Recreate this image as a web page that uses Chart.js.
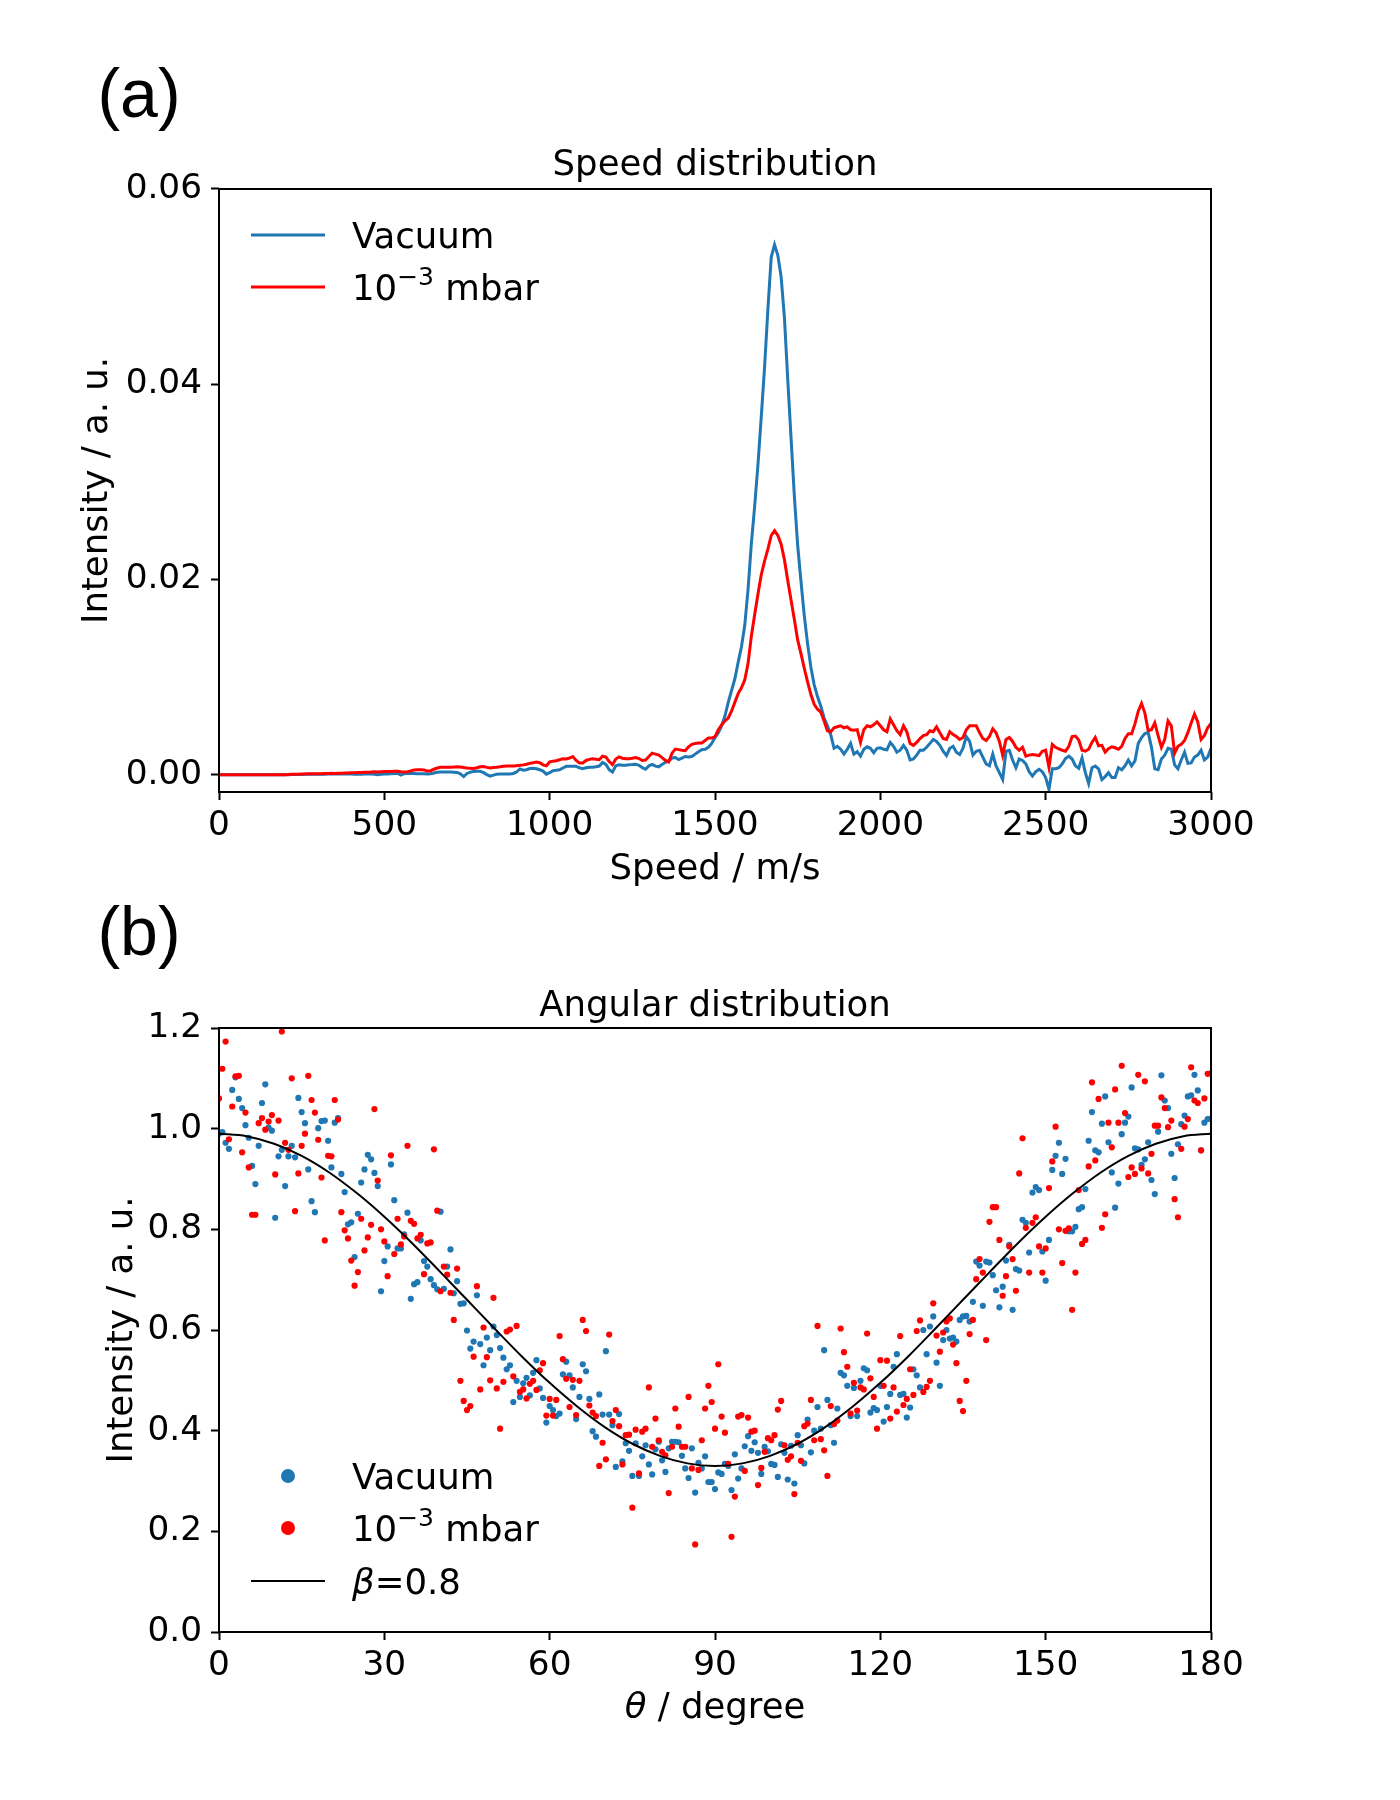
<!DOCTYPE html>
<html>
<head>
<meta charset="utf-8">
<script src="https://cdn.jsdelivr.net/npm/chart.js@4.4.1/dist/chart.umd.min.js"></script>
<style>
html, body { margin: 0; padding: 0; background: #ffffff; }
#wrap { position: relative; width: 1400px; height: 1800px; background: #ffffff; }
#wrap canvas { position: absolute; left: 0; }
</style>
</head>
<body>
<div id="wrap">
  <canvas id="speedChart" width="1400" height="900" style="top:0px"></canvas>
  <canvas id="angleChart" width="1400" height="900" style="top:900px"></canvas>
</div>
<script>
// ---------------- Panel (a): speed distribution ----------------
const speeds = [
  0,10,20,30,40,50,60,70,80,90,
  100,110,120,130,140,150,160,170,180,190,
  200,210,220,230,240,250,260,270,280,290,
  300,310,320,330,340,350,360,370,380,390,
  400,410,420,430,440,450,460,470,480,490,
  500,510,520,530,540,550,560,570,580,590,
  600,610,620,630,640,650,660,670,680,690,
  700,710,720,730,740,750,760,770,780,790,
  800,810,820,830,840,850,860,870,880,890,
  900,910,920,930,940,950,960,970,980,990,
  1000,1010,1020,1030,1040,1050,1060,1070,1080,1090,
  1100,1110,1120,1130,1140,1150,1160,1170,1180,1190,
  1200,1210,1220,1230,1240,1250,1260,1270,1280,1290,
  1300,1310,1320,1330,1340,1350,1360,1370,1380,1390,
  1400,1410,1420,1430,1440,1450,1460,1470,1480,1490,
  1500,1510,1520,1530,1540,1550,1560,1570,1580,1590,
  1600,1610,1620,1630,1640,1650,1660,1670,1680,1690,
  1700,1710,1720,1730,1740,1750,1760,1770,1780,1790,
  1800,1810,1820,1830,1840,1850,1860,1870,1880,1890,
  1900,1910,1920,1930,1940,1950,1960,1970,1980,1990,
  2000,2010,2020,2030,2040,2050,2060,2070,2080,2090,
  2100,2110,2120,2130,2140,2150,2160,2170,2180,2190,
  2200,2210,2220,2230,2240,2250,2260,2270,2280,2290,
  2300,2310,2320,2330,2340,2350,2360,2370,2380,2390,
  2400,2410,2420,2430,2440,2450,2460,2470,2480,2490,
  2500,2510,2520,2530,2540,2550,2560,2570,2580,2590,
  2600,2610,2620,2630,2640,2650,2660,2670,2680,2690,
  2700,2710,2720,2730,2740,2750,2760,2770,2780,2790,
  2800,2810,2820,2830,2840,2850,2860,2870,2880,2890,
  2900,2910,2920,2930,2940,2950,2960,2970,2980,2990,
  3000
];

const speedVacuum = [
  0,0,0,0,0,0,0,0,0,0,
  0,0,0,0,0,0,0,0,0,0,
  0,0,0.00001,0.00001,0.00002,0.00002,0.00003,0.00003,0.00004,0.00004,
  0.00005,0.00005,0.00005,0.00006,0.00006,0.00006,0.00006,0.00007,0.00007,0.00006,
  0.00007,0.00005,0.00004,0.00004,0.00006,0.00007,0.00007,0.00003,0,0.00003,
  0.00006,0.00007,0.00008,0.00011,0.00014,-0.00005,0.0001,0.00013,0.00012,0.00011,
  0.0001,0.0001,0.00009,0.00007,0.0001,0.00016,0.00024,0.00027,0.00027,0.00027,
  0.00027,0.00025,0.00022,0.00008,-0.0002,0.00012,0.00025,0.00033,0.00034,0.00034,
  0.0002,0,-0.00016,-0.00005,0.00005,0.00007,0.00007,0.00007,0.00007,0.00012,
  0.00027,0.00058,0.00045,0.0005,0.00062,0.00066,0.0006,0.0005,0.00036,0.00005,
  0.0002,0.00041,0.00045,0.0005,0.00068,0.00085,0.00085,0.00085,0.00085,0.0007,
  0.0006,0.0007,0.00075,0.00075,0.0008,0.00088,0.00125,0.00105,0.0005,0.00026,
  0.0009,0.001,0.00097,0.00097,0.001,0.00103,0.00107,0.00095,0.00072,0.00055,
  0.0009,0.00105,0.00087,0.0008,0.00105,0.00126,0.0014,0.0017,0.00175,0.00155,
  0.0017,0.00186,0.0018,0.00185,0.0021,0.00235,0.00255,0.0026,0.0028,0.0032,
  0.0038,0.0043,0.005,0.006,0.0074,0.0086,0.0098,0.0115,0.0131,0.0153,
  0.019,0.0237,0.0275,0.0318,0.0367,0.0418,0.0477,0.053,0.0543,0.0532,
  0.051,0.0468,0.0405,0.0345,0.0285,0.0235,0.0198,0.0163,0.0134,0.011,
  0.0092,0.008,0.007,0.0058,0.005,0.0041,0.0027,0.0029,0.0026,0.0021,
  0.0026,0.0032,0.0021,0.00235,0.0019,0.0026,0.00285,0.0027,0.00225,0.0027,
  0.00275,0.0026,0.00255,0.0033,0.0029,0.0023,0.0025,0.003,0.0025,0.0015,
  0.0016,0.002,0.0025,0.0025,0.0028,0.0032,0.0036,0.0034,0.003,0.0024,
  0.00195,0.0027,0.0029,0.0023,0.00205,0.0027,0.0039,0.0034,0.002,0.0024,
  0.0025,0.0018,0.0011,0.0009,0.0021,0.0009,0.0002,-0.0005,0.0024,0.0025,
  0.0015,0.0007,0.0016,0.00145,0.0011,0.0003,-0.00015,0.0003,0.00054,0.0003,
  -0.0003,-0.0015,0.0006,0.0006,0.0007,0.0011,0.00165,0.0019,0.0016,0.0009,
  0.00065,0.0017,0.0002,-0.0009,0.0007,0.00088,0.0006,-0.0005,-0.0002,0.0002,
  -0.0003,-0.0003,0.0007,0.0005,0.0009,0.0015,0.0009,0.0014,0.0032,0.0038,
  0.0042,0.0043,0.0028,0.0006,0.0005,0.0016,0.002,0.0027,0.0026,0.001,
  0.0006,0.0015,0.0023,0.00115,0.0012,0.0018,0.002,0.0025,0.0015,0.0018,
  0.0027
];

const speedMbar = [
  0,0,0,0,0,0,0,0,0,0,
  0,0,0,0,0,0,0,0,0,0,
  0,0.00002,0.00003,0.00004,0.00005,0.00006,0.00007,0.00008,0.00009,0.0001,
  0.0001,0.0001,0.00012,0.00012,0.00013,0.00012,0.00014,0.00015,0.00017,0.00017,
  0.0002,0.0002,0.00022,0.00022,0.00025,0.00025,0.00027,0.0003,0.00028,0.0003,
  0.00032,0.00032,0.00033,0.00034,0.00034,0.0003,0.00028,0.0003,0.00038,0.00048,
  0.00051,0.00051,0.00048,0.00036,0.0004,0.00055,0.00068,0.00075,0.00075,0.00075,
  0.00075,0.00077,0.0008,0.00078,0.00072,0.00068,0.00065,0.00062,0.0007,0.0008,
  0.00082,0.00074,0.00068,0.00072,0.00075,0.0008,0.00086,0.00088,0.00088,0.00088,
  0.00092,0.00095,0.001,0.00106,0.00115,0.00122,0.00128,0.00122,0.001,0.0009,
  0.0013,0.00138,0.00143,0.00152,0.00163,0.00161,0.0017,0.00185,0.00145,0.0012,
  0.0012,0.00145,0.00156,0.00163,0.00158,0.00153,0.0019,0.0018,0.00135,0.00102,
  0.0016,0.00182,0.00168,0.00163,0.00163,0.00168,0.00175,0.00165,0.00145,0.0015,
  0.00185,0.0022,0.0021,0.002,0.00175,0.00145,0.0013,0.0022,0.00262,0.00256,
  0.0025,0.00245,0.00285,0.0031,0.0032,0.00323,0.00323,0.0035,0.00374,0.00374,
  0.0039,0.0046,0.0051,0.0055,0.0058,0.0065,0.0074,0.0083,0.0089,0.0097,
  0.0114,0.0142,0.0164,0.0185,0.0205,0.0219,0.0231,0.0245,0.025,0.0245,
  0.0236,0.022,0.0199,0.0179,0.0159,0.0138,0.0124,0.0109,0.0095,0.0082,
  0.0072,0.0067,0.0064,0.0055,0.0045,0.0044,0.0048,0.0049,0.005,0.0048,
  0.0049,0.0046,0.00455,0.0046,0.0033,0.0046,0.005,0.0049,0.0051,0.0054,
  0.005,0.0046,0.0044,0.0057,0.0051,0.0045,0.0041,0.005,0.0044,0.0032,
  0.003,0.0033,0.0037,0.004,0.0041,0.0045,0.0044,0.0049,0.0043,0.0037,
  0.0036,0.0044,0.0041,0.0039,0.0036,0.0038,0.0046,0.005,0.005,0.005,
  0.0043,0.0037,0.0035,0.0039,0.0047,0.0043,0.0034,0.002,0.0036,0.0038,
  0.0034,0.0028,0.0025,0.0028,0.0019,0.002,0.00205,0.002,0.00195,0.0024,
  0.0025,0.00075,0.0031,0.0028,0.00265,0.0025,0.0024,0.0029,0.0039,0.00395,
  0.00355,0.0025,0.0024,0.0026,0.0033,0.0038,0.00295,0.003,0.0023,0.00265,
  0.00285,0.00275,0.0026,0.0029,0.0037,0.0042,0.0042,0.0052,0.0065,0.0073,
  0.0063,0.0045,0.0046,0.0053,0.004,0.0028,0.0036,0.0055,0.005,0.0022,
  0.0029,0.0031,0.0035,0.0043,0.0053,0.0062,0.0054,0.0036,0.004,0.0048,
  0.00526
];
const speedYTicks = [0, 0.02, 0.04, 0.06];

// ---------------- Panel (b): angular distribution ----------------
const angles = [
  0,0.6,1.2,1.8,2.4,3,3.6,4.2,4.8,5.4,
  6,6.6,7.2,7.8,8.4,9,9.6,10.2,10.8,11.4,
  12,12.6,13.2,13.8,14.4,15,15.6,16.2,16.8,17.4,
  18,18.6,19.2,19.8,20.4,21,21.6,22.2,22.8,23.4,
  24,24.6,25.2,25.8,26.4,27,27.6,28.2,28.8,29.4,
  30,30.6,31.2,31.8,32.4,33,33.6,34.2,34.8,35.4,
  36,36.6,37.2,37.8,38.4,39,39.6,40.2,40.8,41.4,
  42,42.6,43.2,43.8,44.4,45,45.6,46.2,46.8,47.4,
  48,48.6,49.2,49.8,50.4,51,51.6,52.2,52.8,53.4,
  54,54.6,55.2,55.8,56.4,57,57.6,58.2,58.8,59.4,
  60,60.6,61.2,61.8,62.4,63,63.6,64.2,64.8,65.4,
  66,66.6,67.2,67.8,68.4,69,69.6,70.2,70.8,71.4,
  72,72.6,73.2,73.8,74.4,75,75.6,76.2,76.8,77.4,
  78,78.6,79.2,79.8,80.4,81,81.6,82.2,82.8,83.4,
  84,84.6,85.2,85.8,86.4,87,87.6,88.2,88.8,89.4,
  90,90.6,91.2,91.8,92.4,93,93.6,94.2,94.8,95.4,
  96,96.6,97.2,97.8,98.4,99,99.6,100.2,100.8,101.4,
  102,102.6,103.2,103.8,104.4,105,105.6,106.2,106.8,107.4,
  108,108.6,109.2,109.8,110.4,111,111.6,112.2,112.8,113.4,
  114,114.6,115.2,115.8,116.4,117,117.6,118.2,118.8,119.4,
  120,120.6,121.2,121.8,122.4,123,123.6,124.2,124.8,125.4,
  126,126.6,127.2,127.8,128.4,129,129.6,130.2,130.8,131.4,
  132,132.6,133.2,133.8,134.4,135,135.6,136.2,136.8,137.4,
  138,138.6,139.2,139.8,140.4,141,141.6,142.2,142.8,143.4,
  144,144.6,145.2,145.8,146.4,147,147.6,148.2,148.8,149.4,
  150,150.6,151.2,151.8,152.4,153,153.6,154.2,154.8,155.4,
  156,156.6,157.2,157.8,158.4,159,159.6,160.2,160.8,161.4,
  162,162.6,163.2,163.8,164.4,165,165.6,166.2,166.8,167.4,
  168,168.6,169.2,169.8,170.4,171,171.6,172.2,172.8,173.4,
  174,174.6,175.2,175.8,176.4,177,177.6,178.2,178.8,179.4,
  180
];

const angleVacuum = [
  0.990,0.993,0.972,0.960,1.077,1.102,1.059,1.041,1.007,0.982,
  0.926,0.890,0.966,1.051,1.088,1.002,0.996,0.823,0.945,0.958,
  0.886,0.945,0.966,0.943,1.061,1.033,1.011,0.919,0.856,0.834,
  1.001,1.015,1.016,0.976,0.923,1.012,1.021,0.910,0.874,0.810,
  0.814,0.745,0.831,0.893,0.919,0.948,0.939,0.912,0.886,0.677,
  0.737,0.766,0.929,0.858,0.762,0.762,0.790,0.833,0.662,0.691,
  0.695,0.778,0.737,0.726,0.701,0.689,0.681,0.835,0.682,0.726,
  0.760,0.673,0.697,0.652,0.653,0.599,0.563,0.577,0.669,0.572,
  0.530,0.585,0.560,0.607,0.590,0.564,0.545,0.522,0.530,0.457,
  0.499,0.467,0.494,0.505,0.470,0.515,0.540,0.484,0.465,0.416,
  0.449,0.441,0.429,0.434,0.512,0.537,0.510,0.486,0.423,0.467,
  0.532,0.518,0.463,0.399,0.388,0.472,0.432,0.558,0.432,0.411,
  0.328,0.433,0.339,0.375,0.360,0.310,0.375,0.310,0.349,0.371,
  0.333,0.313,0.363,0.378,0.341,0.318,0.365,0.378,0.378,0.377,
  0.350,0.325,0.306,0.365,0.277,0.336,0.325,0.349,0.298,0.298,
  0.284,0.317,0.314,0.334,0.330,0.282,0.353,0.305,0.325,0.369,
  0.389,0.360,0.377,0.356,0.314,0.368,0.359,0.334,0.332,0.308,
  0.373,0.356,0.303,0.370,0.295,0.391,0.371,0.335,0.422,0.357,
  0.400,0.447,0.404,0.560,0.461,0.411,0.376,0.444,0.515,0.510,
  0.489,0.429,0.485,0.429,0.499,0.524,0.520,0.436,0.445,0.441,
  0.489,0.418,0.447,0.473,0.527,0.552,0.471,0.473,0.426,0.446,
  0.522,0.510,0.486,0.600,0.552,0.607,0.627,0.535,0.489,0.580,
  0.600,0.583,0.585,0.577,0.620,0.627,0.628,0.617,0.656,0.736,
  0.728,0.648,0.736,0.734,0.709,0.679,0.645,0.686,0.738,0.769,
  0.640,0.721,0.718,0.819,0.813,0.754,0.873,0.884,0.878,0.756,
  0.698,0.779,0.918,0.946,0.972,0.910,0.940,0.796,0.796,0.805,
  0.840,0.844,0.880,0.976,1.033,0.957,0.953,1.010,1.064,0.973,
  0.913,0.843,0.891,0.989,1.012,1.024,1.082,0.961,0.959,0.928,
  0.939,0.973,0.898,0.870,0.994,1.106,1.056,1.041,0.950,0.902,
  0.969,1.009,1.026,1.064,1.066,1.107,1.076,0.957,1.012,1.019,
  1.020
];

const angleMbar = [
  1.060,1.119,1.173,0.979,1.044,1.104,1.105,0.953,1.032,0.923,
  0.829,0.829,1.011,1.021,0.998,1.014,1.027,0.909,1.016,1.193,
  0.972,0.958,1.100,0.836,0.911,0.966,0.990,1.105,1.057,1.032,
  0.978,0.903,0.778,0.946,0.945,1.057,1.018,0.834,0.798,0.782,
  0.738,0.688,0.715,0.821,0.758,0.784,0.809,1.039,0.897,0.800,
  0.776,0.707,0.947,0.751,0.821,0.770,0.786,0.966,0.817,0.811,
  0.782,0.789,0.711,0.772,0.774,0.959,0.837,0.677,0.726,0.710,
  0.674,0.620,0.722,0.499,0.459,0.441,0.449,0.547,0.687,0.482,
  0.605,0.546,0.500,0.664,0.484,0.404,0.497,0.597,0.601,0.508,
  0.608,0.477,0.482,0.464,0.493,0.499,0.481,0.520,0.534,0.430,
  0.463,0.430,0.461,0.588,0.542,0.503,0.447,0.501,0.431,0.499,
  0.620,0.598,0.450,0.436,0.429,0.330,0.376,0.343,0.591,0.419,
  0.441,0.409,0.333,0.391,0.392,0.247,0.402,0.315,0.398,0.404,
  0.486,0.368,0.424,0.381,0.358,0.351,0.276,0.368,0.444,0.408,
  0.368,0.368,0.467,0.325,0.174,0.322,0.381,0.444,0.489,0.457,
  0.404,0.532,0.428,0.396,0.334,0.189,0.269,0.428,0.431,0.320,
  0.426,0.398,0.400,0.292,0.326,0.358,0.385,0.381,0.391,0.442,
  0.459,0.371,0.342,0.349,0.274,0.376,0.340,0.409,0.414,0.461,
  0.381,0.608,0.383,0.361,0.310,0.449,0.413,0.420,0.603,0.556,
  0.527,0.434,0.495,0.440,0.486,0.482,0.593,0.504,0.467,0.404,
  0.540,0.489,0.539,0.424,0.486,0.438,0.588,0.451,0.463,0.522,
  0.471,0.598,0.619,0.477,0.487,0.499,0.653,0.589,0.557,0.595,
  0.617,0.623,0.571,0.534,0.459,0.439,0.499,0.592,0.620,0.701,
  0.741,0.714,0.580,0.815,0.844,0.844,0.779,0.668,0.707,0.766,
  0.741,0.678,0.911,0.981,0.803,0.714,0.813,0.824,0.766,0.714,
  0.762,0.882,0.935,1.004,0.800,0.733,0.797,0.802,0.640,0.714,
  0.878,0.771,0.779,0.925,1.092,0.937,1.059,0.803,0.830,1.012,
  0.963,1.078,1.012,1.125,1.031,0.904,0.923,0.910,1.107,0.921,
  1.094,0.911,0.950,1.006,1.006,1.062,1.041,1.003,1.016,0.860,
  0.824,0.960,1.004,1.019,1.122,1.056,1.051,0.957,1.060,1.109,
  1.110
];

// beta = 0.8 fit curve, every 5 degrees
const fitAngles = [0,5,10,15,20,25,30,35,40,45,50,55,60,65,70,75,80,85,90,
  95,100,105,110,115,120,125,130,135,140,145,150,155,160,165,170,175,180];
const fitValues = [0.990,0.985,0.970,0.946,0.913,0.872,0.825,0.773,0.717,0.660,0.603,0.547,0.495,0.448,0.407,0.374,0.350,0.335,0.330,
  0.335,0.350,0.374,0.407,0.448,0.495,0.547,0.603,0.660,0.717,0.773,0.825,0.872,0.913,0.946,0.970,0.985,0.990];

const angleXTicks = [0, 30, 60, 90, 120, 150, 180];
const angleYTicks = [0, 0.2, 0.4, 0.6, 0.8, 1.0, 1.2];

// ---------------- styling ----------------
const BLUE = '#1f77b4';
const RED = '#ff0000';
const FAM = '"DejaVu Sans", sans-serif';
const FS = 35.5;      // titles, axis labels, legend
const TFS = 34.3;     // tick labels
const tickFont = { family: '"DejaVu Sans"', size: TFS, weight: 'normal', lineHeight: 1.2 };
const labelFont = { family: '"DejaVu Sans"', size: FS, weight: 'normal', lineHeight: 1.2 };

function drawRich(ctx, parts, x, y, align) {
  const fonts = parts.map(p => (p.italic ? 'italic ' : '') + (p.size || FS) + 'px ' + FAM);
  const widths = parts.map((p, i) => { ctx.font = fonts[i]; return ctx.measureText(p.t).width; });
  const total = widths.reduce((s, w) => s + w, 0);
  let cx = align === 'center' ? x - total / 2 : x;
  ctx.textAlign = 'left';
  ctx.textBaseline = 'alphabetic';
  parts.forEach((p, i) => {
    ctx.font = fonts[i];
    ctx.fillText(p.t, cx, y - (p.raise || 0));
    cx += widths[i];
  });
}

function makeDecor(id, cfg) {
  return {
    id: id,
    afterDraw(chart) {
      const ctx = chart.ctx, a = chart.chartArea;
      ctx.save();
      // frame (all four spines)
      ctx.strokeStyle = '#000';
      ctx.lineWidth = 2;
      ctx.strokeRect(a.left, a.top, a.right - a.left, a.bottom - a.top);
      // panel label
      ctx.fillStyle = '#000';
      ctx.font = '68px "Liberation Sans", Arial, sans-serif';
      ctx.textAlign = 'center';
      ctx.textBaseline = 'alphabetic';
      ctx.fillText(cfg.panelLabel, cfg.labelX, cfg.labelBaseline);
      // legend
      cfg.legend.forEach(item => {
        if (item.kind === 'line') {
          ctx.strokeStyle = item.color;
          ctx.lineWidth = item.width;
          ctx.beginPath();
          ctx.moveTo(cfg.legendX0, item.y);
          ctx.lineTo(cfg.legendX1, item.y);
          ctx.stroke();
        } else {
          ctx.fillStyle = item.color;
          ctx.beginPath();
          ctx.arc((cfg.legendX0 + cfg.legendX1) / 2, item.y, cfg.dotR, 0, Math.PI * 2);
          ctx.fill();
        }
        ctx.fillStyle = '#000';
        drawRich(ctx, item.parts, cfg.textX, item.y + 12.9, 'left');
      });
      if (cfg.xTitle) {
        ctx.fillStyle = '#000';
        drawRich(ctx, cfg.xTitle, (a.left + a.right) / 2, cfg.xTitleBaseline, 'center');
      }
      ctx.restore();
    }
  };
}

const gridOpts = { display: true, drawOnChartArea: false, drawTicks: true, tickLength: 8, tickWidth: 2, tickColor: '#000' };
const mbarParts = [{ t: '10' }, { t: '−3', size: 25, raise: 14.5 }, { t: ' mbar' }];

// ---------------- chart (a) ----------------
new Chart(document.getElementById('speedChart'), {
  type: 'line',
  data: {
    datasets: [
      { label: '10⁻³ mbar', data: speeds.map((s, i) => ({ x: s, y: speedMbar[i] })),
        borderColor: RED, backgroundColor: RED, borderWidth: 3, pointRadius: 0, tension: 0, order: 1 },
      { label: 'Vacuum', data: speeds.map((s, i) => ({ x: s, y: speedVacuum[i] })),
        borderColor: BLUE, backgroundColor: BLUE, borderWidth: 3, pointRadius: 0, tension: 0, order: 2 }
    ]
  },
  options: {
    responsive: false, animation: false, devicePixelRatio: 1,
    layout: { padding: { left: 0, right: 189, top: 0, bottom: 0 }, autoPadding: false },
    plugins: {
      legend: { display: false },
      tooltip: { enabled: false },
      title: { display: true, text: 'Speed distribution', color: '#000', fullSize: false,
        font: labelFont, padding: { top: 144.7, bottom: 1.7 } }
    },
    scales: {
      x: {
        type: 'linear', position: 'bottom', min: 0, max: 3000,
        ticks: { stepSize: 500, color: '#000', font: tickFont, padding: 6, maxRotation: 0, autoSkip: false,
          callback: v => String(v) },
        grid: gridOpts, border: { display: false },
        title: { display: true, text: 'Speed / m/s', color: '#000', font: labelFont, padding: { top: 0, bottom: 8.7 } },
        afterFit(s) { s.height = 108; }
      },
      y: {
        type: 'linear', position: 'left', min: -0.00178, max: 0.06,
        afterBuildTicks(s) { s.ticks = speedYTicks.map(v => ({ value: v })); },
        ticks: { color: '#000', font: tickFont, padding: 9, callback: v => Number(v).toFixed(2) },
        grid: gridOpts, border: { display: false },
        title: { display: true, text: 'Intensity / a. u.', color: '#000', font: labelFont, padding: { top: 76.7, bottom: 0 } },
        afterFit(s) { s.width = 219; }
      }
    }
  },
  plugins: [makeDecor('decorA', {
    panelLabel: '(a)', labelX: 139, labelBaseline: 117,
    legendX0: 251, legendX1: 325, textX: 352, dotR: 7,
    legend: [
      { kind: 'line', color: BLUE, width: 3, y: 235, parts: [{ t: 'Vacuum' }] },
      { kind: 'line', color: RED, width: 3, y: 287, parts: mbarParts }
    ]
  })]
});

// ---------------- chart (b) ----------------
new Chart(document.getElementById('angleChart'), {
  type: 'scatter',
  data: {
    datasets: [
      { type: 'line', label: 'β=0.8', data: fitAngles.map((a, i) => ({ x: a, y: fitValues[i] })),
        borderColor: '#000', borderWidth: 2, pointRadius: 0, cubicInterpolationMode: 'monotone', fill: false, order: 0 },
      { type: 'scatter', label: '10⁻³ mbar', data: angles.map((a, i) => ({ x: a, y: angleMbar[i] })),
        backgroundColor: RED, borderWidth: 0, pointRadius: 3.1, pointBorderWidth: 0, order: 1 },
      { type: 'scatter', label: 'Vacuum', data: angles.map((a, i) => ({ x: a, y: angleVacuum[i] })),
        backgroundColor: BLUE, borderWidth: 0, pointRadius: 3.1, pointBorderWidth: 0, order: 2 }
    ]
  },
  options: {
    responsive: false, animation: false, devicePixelRatio: 1,
    layout: { padding: { left: 0, right: 189, top: 0, bottom: 0 }, autoPadding: false },
    plugins: {
      legend: { display: false },
      tooltip: { enabled: false },
      title: { display: true, text: 'Angular distribution', color: '#000', fullSize: false,
        font: labelFont, padding: { top: 85.2, bottom: 0.2 } }
    },
    scales: {
      x: {
        type: 'linear', position: 'bottom', min: 0, max: 180,
        afterBuildTicks(s) { s.ticks = angleXTicks.map(v => ({ value: v })); },
        ticks: { color: '#000', font: tickFont, padding: 6, maxRotation: 0, autoSkip: false, callback: v => String(v) },
        grid: gridOpts, border: { display: false },
        title: { display: false },
        afterFit(s) { s.height = 168; }
      },
      y: {
        type: 'linear', position: 'left', min: 0, max: 1.2,
        afterBuildTicks(s) { s.ticks = angleYTicks.map(v => ({ value: v })); },
        ticks: { color: '#000', font: tickFont, padding: 9, callback: v => Number(v).toFixed(1) },
        grid: gridOpts, border: { display: false },
        title: { display: true, text: 'Intensity / a. u.', color: '#000', font: labelFont, padding: { top: 101.2, bottom: 0 } },
        afterFit(s) { s.width = 219; }
      }
    }
  },
  plugins: [makeDecor('decorB', {
    panelLabel: '(b)', labelX: 139, labelBaseline: 55,
    legendX0: 251, legendX1: 325, textX: 352, dotR: 7,
    legend: [
      { kind: 'dot', color: BLUE, y: 576, parts: [{ t: 'Vacuum' }] },
      { kind: 'dot', color: RED, y: 628, parts: mbarParts },
      { kind: 'line', color: '#000', width: 2, y: 681, parts: [{ t: 'β', italic: true }, { t: '=0.8' }] }
    ],
    xTitle: [{ t: 'θ', italic: true }, { t: ' / degree' }],
    xTitleBaseline: 818
  })]
});
</script>
</body>
</html>
